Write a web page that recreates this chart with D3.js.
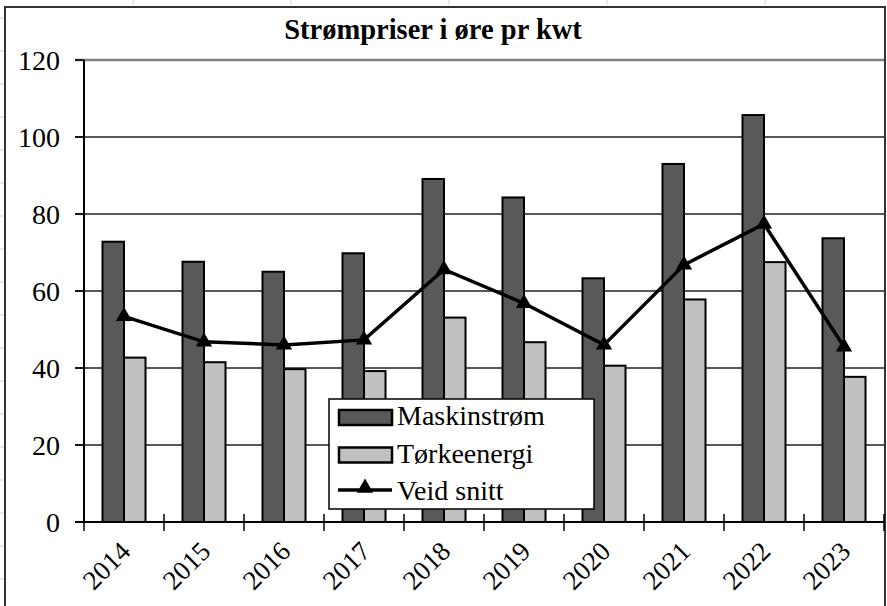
<!DOCTYPE html>
<html>
<head>
<meta charset="utf-8">
<script src="https://cdn.jsdelivr.net/npm/d3@7"></script>
<style>
  body { margin: 0; background: #fff; }
</style>
</head>
<body>
<div id="chart"></div>
<script>
// Strømpriser i øre pr kwt
var years = ['2014', '2015', '2016', '2017', '2018', '2019', '2020', '2021', '2022', '2023']
var maskinstrom = [72.8, 67.6, 65.0, 69.8, 89.1, 84.3, 63.3, 93.0, 105.7, 73.7]
var torkeenergi = [42.7, 41.5, 39.7, 39.2, 53.1, 46.7, 40.6, 57.8, 67.5, 37.7]
var veidSnitt = [53.4, 46.8, 46.0, 47.3, 65.6, 56.8, 46.0, 66.8, 77.4, 45.5]
var yTicks = [0, 20, 40, 60, 80, 100, 120]
var seriesNames = ['Maskinstrøm', 'Tørkeenergi', 'Veid snitt']

var serif = "'Liberation Serif', 'DejaVu Serif', 'Times New Roman', Times, serif"
var W = 887, H = 606
var svg = d3.select('#chart').append('svg').attr('width', W).attr('height', H)
  .attr('font-family', serif)

// faint spreadsheet cell marks behind the chart
svg.append('g').selectAll('line.colmark').data(d3.range(133, W, 158)).join('line')
  .attr('x1', d => d).attr('x2', d => d).attr('y1', 0).attr('y2', 5)
  .attr('stroke', '#d0d0d0').attr('stroke-width', 1)
svg.append('g').selectAll('line.rowmark').data(d3.range(18, H, 33)).join('line')
  .attr('x1', 0).attr('x2', 4).attr('y1', d => d).attr('y2', d => d)
  .attr('stroke', '#d0d0d0').attr('stroke-width', 1)

// chart frame
svg.append('rect').attr('x', 5).attr('y', 7).attr('width', 880).attr('height', H + 10)
  .attr('fill', '#fff').attr('stroke', '#333').attr('stroke-width', 2)

var x = d3.scaleBand().domain(years).range([84, 884]).paddingInner(0).paddingOuter(0)
var xs = d3.scaleBand().domain([0, 1]).range([0, x.bandwidth()]).paddingInner(0).paddingOuter(0.86)
var y = d3.scaleLinear().domain([0, 120]).range([522, 60])

// gridlines
svg.append('g').selectAll('line.grid').data(yTicks.filter(d => d > 0)).join('line')
  .attr('x1', 75).attr('x2', 884)
  .attr('y1', d => y(d)).attr('y2', d => y(d))
  .attr('stroke', d => d === 120 ? '#808080' : '#222')
  .attr('stroke-width', d => d === 120 ? 2.5 : 1.3)

// bars
var groups = svg.append('g').selectAll('g').data(years).join('g')
  .attr('transform', d => 'translate(' + x(d) + ',0)')
groups.append('rect')
  .attr('x', xs(0)).attr('width', xs.bandwidth())
  .attr('y', (d, i) => y(maskinstrom[i])).attr('height', (d, i) => y(0) - y(maskinstrom[i]))
  .attr('fill', '#595959').attr('stroke', '#000').attr('stroke-width', 2)
groups.append('rect')
  .attr('x', xs(1)).attr('width', xs.bandwidth())
  .attr('y', (d, i) => y(torkeenergi[i])).attr('height', (d, i) => y(0) - y(torkeenergi[i]))
  .attr('fill', '#c0c0c0').attr('stroke', '#000').attr('stroke-width', 2)

// axes
svg.append('line').attr('x1', 84).attr('x2', 84).attr('y1', y(120)).attr('y2', y(0))
  .attr('stroke', '#000').attr('stroke-width', 2)
svg.append('g').selectAll('line.ytick').data(yTicks).join('line')
  .attr('x1', 75).attr('x2', 84).attr('y1', d => y(d)).attr('y2', d => y(d))
  .attr('stroke', '#000').attr('stroke-width', 1.5)
svg.append('g').selectAll('text').data(yTicks).join('text')
  .attr('x', 60).attr('y', d => y(d)).attr('dy', '0.34em')
  .attr('text-anchor', 'end').attr('font-family', serif).attr('font-size', 28)
  .text(d => d)

svg.append('line').attr('x1', 75).attr('x2', 884).attr('y1', y(0)).attr('y2', y(0))
  .attr('stroke', '#000').attr('stroke-width', 2)
svg.append('g').selectAll('line.xtick').data(years.map(d => x(d)).concat([884])).join('line')
  .attr('x1', d => d).attr('x2', d => d).attr('y1', y(0) - 8).attr('y2', y(0) + 9)
  .attr('stroke', '#000').attr('stroke-width', 1.5)
svg.append('g').selectAll('text').data(years).join('text')
  .attr('transform', d => 'translate(' + (x(d) + x.bandwidth() / 2 + 8) + ',' + (y(0) + 31) + ') rotate(-45)')
  .attr('text-anchor', 'end').attr('font-family', serif).attr('font-size', 27)
  .text(d => d)

// weighted average line
var cx = d => x(d) + x.bandwidth() / 2
var line = d3.line().x((d, i) => cx(years[i])).y(d => y(d))
svg.append('path').attr('d', line(veidSnitt))
  .attr('fill', 'none').attr('stroke', '#000').attr('stroke-width', 3.5)
var tri = d3.symbol(d3.symbolTriangle, 115)
svg.append('g').selectAll('path').data(veidSnitt).join('path')
  .attr('d', tri).attr('fill', '#000')
  .attr('transform', (d, i) => 'translate(' + cx(years[i]) + ',' + y(d) + ')')

// title
svg.append('text').attr('x', 433).attr('y', 39).attr('text-anchor', 'middle')
  .attr('font-family', serif).attr('font-size', 28.5).attr('font-weight', 'bold')
  .text('Strømpriser i øre pr kwt')

// legend
var lg = svg.append('g').attr('transform', 'translate(329,399)')
lg.append('rect').attr('width', 265).attr('height', 110)
  .attr('fill', '#fff').attr('stroke', '#000').attr('stroke-width', 1.5)
var fills = ['#595959', '#c0c0c0']
fills.forEach(function(f, i){
  lg.append('rect').attr('x', 10).attr('y', 11 + i * 37.5).attr('width', 53).attr('height', 15)
    .attr('fill', f).attr('stroke', '#000').attr('stroke-width', 2.5)
})
lg.append('line').attr('x1', 9).attr('x2', 63).attr('y1', 91).attr('y2', 91)
  .attr('stroke', '#000').attr('stroke-width', 3.5)
lg.append('path').attr('d', tri).attr('fill', '#000').attr('transform', 'translate(36,89)')
lg.selectAll('text').data(seriesNames).join('text')
  .attr('x', 68).attr('y', (d, i) => 26 + i * 37.5)
  .attr('font-family', serif).attr('font-size', 28)
  .text(d => d)
</script>
</body>
</html>
